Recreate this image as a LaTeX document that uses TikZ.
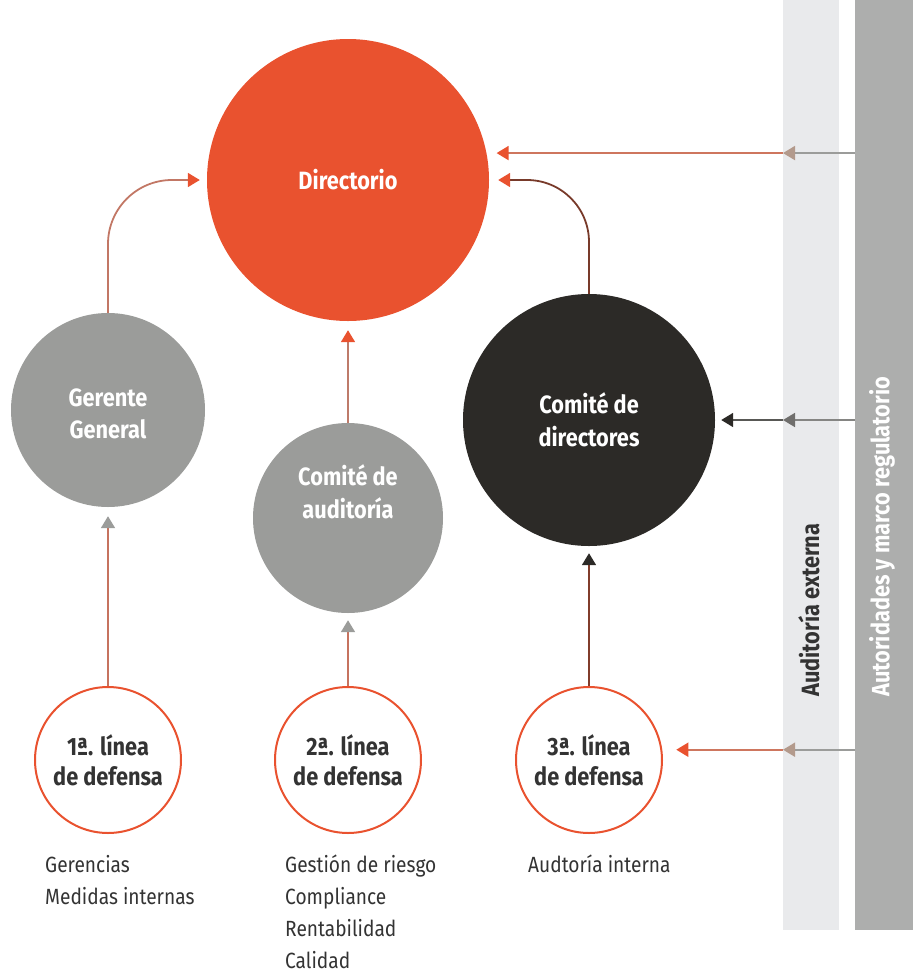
\documentclass[tikz,border=0pt]{standalone}
\usepackage{fontspec}
\setmainfont{Fira Sans}[FakeStretch=0.87]
\usetikzlibrary{arrows.meta,positioning}
\definecolor{rojo}{HTML}{E9522F}
\definecolor{gris}{HTML}{9B9C9A}
\definecolor{negro}{HTML}{2C2A27}
\definecolor{grisclaro}{HTML}{E9EAEC}
\definecolor{grisbarra}{HTML}{ADAEAD}
\definecolor{texto}{HTML}{333333}
\definecolor{taupe}{HTML}{B39A8C}

\begin{document}
\begin{tikzpicture}[x=1pt,y=-1pt,
    every node/.style={inner sep=0pt,text=texto},
    circulo/.style={circle,align=center,text=white,font=\bfseries\fontsize{25}{32.5}\selectfont},
    linea/.style={circle,draw=rojo,line width=2pt,fill=white,minimum size=146pt,align=center,font=\bfseries\fontsize{25}{30}\selectfont},
    lista/.style={anchor=north west,align=left,font=\fontsize{22}{32}\selectfont},
    barra/.style={anchor=north west,minimum width=56pt,minimum height=930pt},
    flecha/.style={line width=1.8pt,-{Triangle[length=12pt,width=14pt,color=#1]}}]
      \useasboundingbox (0,0) rectangle (913,970);
      % Barras
      \node[barra,fill=grisclaro](externa) at (783,0){};
      \node[barra,fill=grisbarra,minimum width=58pt](autoridades) at (855,0){};
      \node[rotate=90,anchor=west,font=\bfseries\fontsize{25}{30}\selectfont] at (809,697){Auditoría externa};
      \node[rotate=90,anchor=west,text=white,font=\bfseries\fontsize{25}{30}\selectfont] at (882,697){Autoridades y marco regulatorio};
      % Círculos
      \node[circulo,fill=rojo,minimum size=282pt](directorio) at (348,180){Directorio};
      \node[circulo,fill=gris,minimum size=194pt,
        label={[yshift=-4pt,text=white,align=center,font=\bfseries\fontsize{25}{32.5}\selectfont]center:Gerente\\General}](gerente) at (108,410){};
      \node[circulo,fill=gris,minimum size=190pt,
        label={[yshift=26pt,text=white,align=center,font=\bfseries\fontsize{25}{32.5}\selectfont]center:Comité de\\auditoría}](auditoria) at (348,518){};
      \node[circulo,fill=negro,minimum size=252pt](directores) at (589,420){Comité de\\directores};
      \node[linea](linea1) at (108,760){1ª. línea\\de defensa};
      \node[linea](linea2) at (348,760){2ª. línea\\de defensa};
      \node[linea](linea3) at (589,760){3ª. línea\\de defensa};
      % Textos
      \node[lista](txt1) at (45,855){Gerencias\\Medidas internas};
      \node[lista](txt2) at (285,855){Gestión de riesgo\\Compliance\\Rentabilidad\\Calidad};
      \node[lista](txt3) at (528,855){Audtoría interna};
      % Flechas
      \draw[flecha=gris,draw=rojo!55!gris] (linea1.north) -- ([yshift=-9pt]gerente.south);
      \draw[flecha=gris,draw=rojo!55!gris] (linea2.north) -- ([yshift=-7pt]auditoria.south);
      \draw[flecha=negro,draw=rojo!45!negro] (linea3.north) -- ([yshift=-7pt]directores.south);
      \draw[flecha=rojo,draw=rojo!45!gris] (auditoria.north) -- ([yshift=-9pt]directorio.south);
      \draw[flecha=rojo,draw=rojo!50!gris,rounded corners=64pt,shorten >=7pt] (gerente.north) |- (directorio.west);
      \draw[flecha=rojo,draw=rojo!40!negro,rounded corners=62pt,shorten >=9pt] (directores.north) |- (directorio.east);
      \draw[flecha=taupe,draw=gris] (autoridades.west |- directorio.11.5) -- (externa.west |- directorio.11.5);
      \draw[flecha=rojo,draw=rojo!50!taupe,shorten >=10pt] (externa.west |- directorio.11.5) -- (directorio.11.5);
      \draw[flecha=gris!60!negro,draw=gris!80!negro] (autoridades.west |- directores.east) -- (externa.west |- directores.east);
      \draw[flecha=negro,draw=gris!40!negro,shorten >=6pt] (externa.west |- directores.east) -- (directores.east);
      \draw[flecha=taupe,draw=gris] (autoridades.west |- linea3.8) -- (externa.west |- linea3.8);
      \draw[flecha=rojo,draw=rojo!50!taupe,shorten >=14pt] (externa.west |- linea3.8) -- (linea3.8);
    \end{tikzpicture}
\end{document}
